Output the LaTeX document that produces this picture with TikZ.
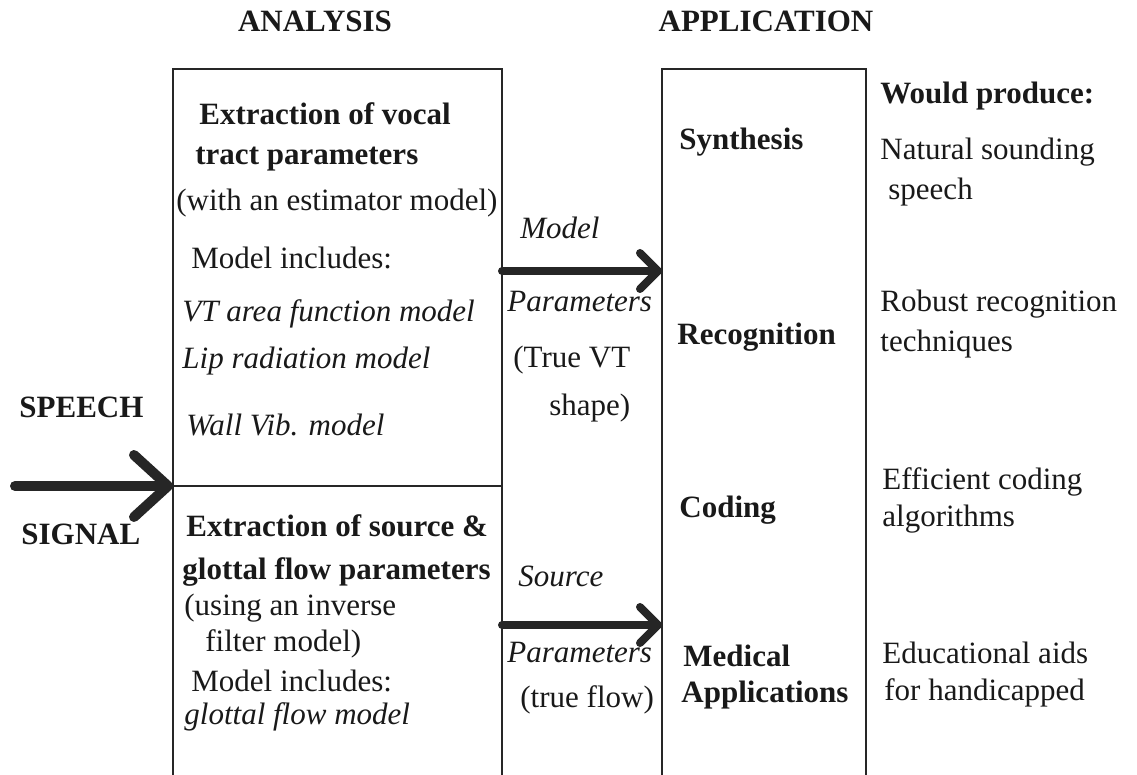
\documentclass[tikz,border=0pt]{standalone}
\usepackage{fontspec}
\setmainfont{Liberation Serif}
\usetikzlibrary{arrows.meta}
\tikzset{
  txt/.style={anchor=base west, inner sep=0pt, text=black!90, font=\fontsize{15.5}{18}\selectfont},
  btxt/.style={txt, font=\fontsize{15.5}{18}\selectfont\bfseries},
  itxt/.style={txt, font=\fontsize{15.5}{18}\selectfont\itshape},
  boxline/.style={draw=black!85, line width=1.4pt},
  bigarrow/.style={draw=black!85, line width=5pt, line cap=round, -{Straight Barb[length=17pt,width=31pt,round]}},
  midarrow/.style={draw=black!85, line width=4pt, line cap=round, -{Straight Barb[length=9pt,width=18pt,round]}}
}
\begin{document}
\begin{tikzpicture}[x=0.5pt,y=-0.5pt]
\useasboundingbox (0,0) rectangle (1137,775);
% box corners
\coordinate (anaSW) at (173,775);
\coordinate (anaNW) at (173,69);
\coordinate (anaNE) at (502,69);
\coordinate (anaSE) at (502,775);
\coordinate (appSW) at (662,775);
\coordinate (appNW) at (662,69);
\coordinate (appNE) at (866,69);
\coordinate (appSE) at (866,775);
\coordinate (divL) at (173,486);
\coordinate (divR) at (502,486);
\coordinate (speechStart) at (15,486);
\coordinate (modelY) at (502,271);
\coordinate (sourceY) at (502,625);
% boxes (open at the bottom)
\draw[boxline] (anaSW) -- (anaNW) -- (anaNE) -- (anaSE);
\draw[boxline] (appSW) -- (appNW) -- (appNE) -- (appSE);
\draw[boxline] (divL) -- (divR);
% arrows
\draw[bigarrow] (speechStart) -- (divL);
\draw[midarrow] (modelY) -- (modelY -| appNW);
\draw[midarrow] (sourceY) -- (sourceY -| appNW);
% titles
\node[btxt, anchor=base] (tAna) at (315,32) {ANALYSIS};
\node[btxt, anchor=base] (tApp) at (766,32) {APPLICATION};
% speech signal
\node[btxt] (speech) at (19,418) {SPEECH};
\node[btxt] (signal) at (21,545) {SIGNAL};
% upper analysis box
\node[btxt] (a1) at (199,125) {Extraction of vocal};
\node[btxt] (a2) at (195,165) {tract parameters};
\node[txt] (a3) at (176,211) {(with an estimator model)};
\node[txt] (a4) at (191,269) {Model includes:};
\node[itxt] (a5) at (182,322) {VT area function model};
\node[itxt] (a6) at (182,369) {Lip radiation model};
\node[itxt] (a7) at (186,436) {Wall Vib. model};
% lower analysis box
\node[btxt] (b1) at (186,537) {Extraction of source \&};
\node[btxt] (b2) at (182,580) {glottal flow parameters};
\node[txt] (b3) at (184,616) {(using an inverse};
\node[txt] (b4) at (205,652) {filter model)};
\node[txt] (b5) at (191,691) {Model includes:};
\node[itxt] (b6) at (184,725) {glottal flow model};
% middle labels
\node[itxt] (m1) at (520,239) {Model};
\node[itxt] (m2) at (507,312) {Parameters};
\node[txt] (m3) at (513,368) {(True VT};
\node[txt] (m4) at (549,416) {shape)};
\node[itxt] (s1) at (518,587) {Source};
\node[itxt] (s2) at (507,662) {Parameters};
\node[txt] (s3) at (520,707) {(true flow)};
% application box
\node[btxt] (p1) at (679,150) {Synthesis};
\node[btxt] (p2) at (677,345) {Recognition};
\node[btxt] (p3) at (679,518) {Coding};
\node[btxt] (p4) at (683,667) {Medical};
\node[btxt] (p5) at (681,703) {Applications};
% would produce
\node[btxt] (w0) at (880,104) {Would produce:};
\node[txt] (w1) at (880,160) {Natural sounding};
\node[txt] (w2) at (888,200) {speech};
\node[txt] (w3) at (880,312) {Robust recognition};
\node[txt] (w4) at (880,352) {techniques};
\node[txt] (w5) at (882,490) {Efficient coding};
\node[txt] (w6) at (882,527) {algorithms};
\node[txt] (w7) at (882,663) {Educational aids};
\node[txt] (w8) at (884,700) {for handicapped};
\end{tikzpicture}
\end{document}
